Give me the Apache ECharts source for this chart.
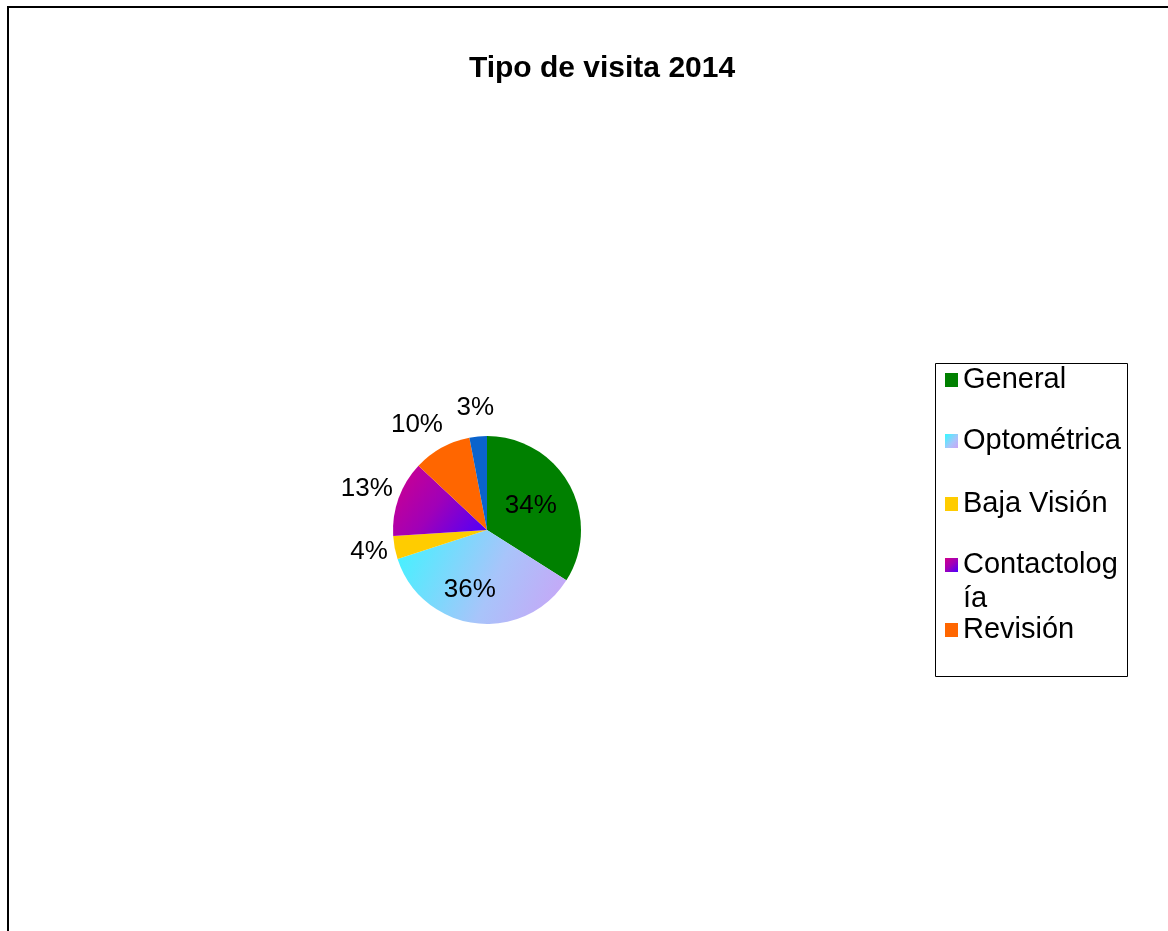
<!DOCTYPE html>
<html>
<head>
<meta charset="utf-8">
<script src="https://cdn.jsdelivr.net/npm/echarts@6/dist/echarts.min.js"></script>
<style>
html,body{margin:0;padding:0;background:#fff;}
#chart{width:1168px;height:931px;}
</style>
</head>
<body>
<div id="chart"></div>
<script>
const titleText = 'Tipo de visita 2014';
const categories = ['General', 'Optométrica', 'Baja Visión', 'Contactología', 'Revisión', 'Otros'];
const values = [34, 36, 4, 13, 10, 3];
const legendNames = ['General', 'Optométrica', 'Baja Visión', 'Contactología', 'Revisión'];

const FONT = '"Liberation Sans", Arial, sans-serif';

const colors = [
  '#008000',
  { type: 'linear', x: 0, y: 0.2, x2: 1, y2: 1, colorStops: [{ offset: 0, color: '#44F2FF' }, { offset: 0.55, color: '#A8C4FA' }, { offset: 1, color: '#CBA2F6' }] },
  '#FFCC00',
  { type: 'linear', x: 0, y: 0, x2: 1, y2: 1, colorStops: [{ offset: 0, color: '#D2008A' }, { offset: 0.5, color: '#A000B8' }, { offset: 1, color: '#4A00FF' }] },
  '#FF6600',
  '#0A63CC'
];
const inside = [true, true, false, false, false, false];
const lineLen = [0, 0, 6, 6, 14, 22];
// small label nudges (style only) to mimic the original label placement
const labelShift = [[0, 0], [-11, 10], [4, 3], [5, -7], [13, -11], [23, -7]];

const data = categories.map((n, i) => ({
  name: n,
  value: values[i],
  itemStyle: { color: colors[i] },
  label: inside[i] ? { position: 'inside' } : { position: 'outside' },
  labelLine: { show: false, length: lineLen[i], length2: 0 }
}));

const legendTops = [365, 426, 489, 514, 615];
const legends = legendNames.map((n, i) => {
  const multi = n === 'Contactología';
  return {
    left: 945,
    top: legendTops[i],
    orient: 'vertical',
    padding: 0,
    itemWidth: 13,
    itemHeight: 14,
    selectedMode: false,
    icon: 'rect',
    data: [n],
    formatter: function (name) { return name === 'Contactología' ? '\nContactolog\nía' : name; },
    textStyle: multi
      ? { fontFamily: FONT, fontSize: 29, color: '#000', lineHeight: 34 }
      : { fontFamily: FONT, fontSize: 29, color: '#000', lineHeight: 30 }
  };
});

const chart = echarts.init(document.getElementById('chart'));
chart.setOption({
  backgroundColor: '#fff',
  animation: false,
  title: {
    text: titleText,
    left: 597,
    textAlign: 'center',
    top: 49,
    textStyle: { fontFamily: FONT, fontSize: 30, fontWeight: 'bold', color: '#000' }
  },
  legend: legends,
  graphic: [
    { type: 'rect', shape: { x: 8, y: 7, width: 1300, height: 1100 }, style: { fill: 'none', stroke: '#000', lineWidth: 2 }, silent: true },
    { type: 'rect', shape: { x: 935.5, y: 363.5, width: 192, height: 313 }, style: { fill: 'none', stroke: '#000', lineWidth: 1 }, silent: true, z: -1 }
  ],
  series: [{
    type: 'pie',
    center: [487, 530],
    radius: 94,
    startAngle: 90,
    clockwise: true,
    avoidLabelOverlap: false,
    label: {
      show: true,
      formatter: '{c}%',
      fontFamily: FONT,
      fontSize: 26,
      color: '#000'
    },
    labelLayout: function (p) {
      const s = labelShift[p.dataIndex];
      return s ? { dx: s[0], dy: s[1] } : {};
    },
    emphasis: { disabled: true },
    data: data
  }]
});
</script>
</body>
</html>
